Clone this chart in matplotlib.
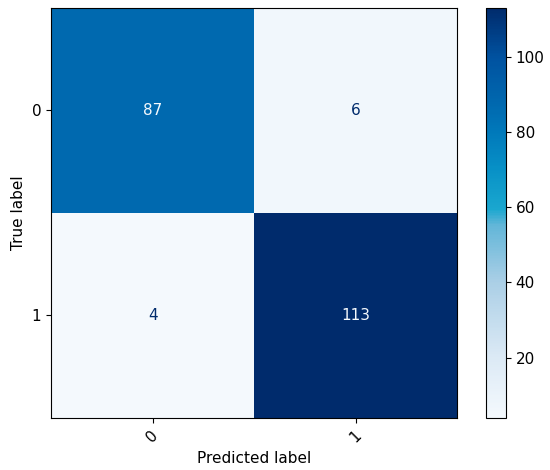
import numpy as np
import matplotlib
matplotlib.use('Agg')
import matplotlib.pyplot as plt
from matplotlib.colors import LinearSegmentedColormap

labels = ['0', '1']
cm = np.array([[87, 6],
               [4, 113]])

# Blues, but punchier like the reference picture
stops = [0.0, 0.15, 0.33, 0.47, 0.51, 0.61, 0.70, 0.76, 0.88, 1.0]
hexes = ['#f4f9fd', '#dbe9f5', '#abcfe6', '#62b6d8', '#1aa7cf',
         '#0790c6', '#0078ba', '#006ab0', '#0052a0', '#002b6c']
cmap = LinearSegmentedColormap.from_list('blues_vivid', list(zip(stops, hexes)))

plt.rcParams['font.size'] = 11

fig = plt.figure(figsize=(5.5, 4.7), dpi=100)
ax = fig.add_axes([0.093, 0.111, 0.738, 0.872])
cax = fig.add_axes([0.884, 0.111, 0.036, 0.872])

im = ax.imshow(cm, interpolation='nearest', cmap=cmap, aspect='auto')
cmap_min, cmap_max = im.cmap(0), im.cmap(1.0)
thresh = (cm.max() + cm.min()) / 2.0

for i in range(cm.shape[0]):
    for j in range(cm.shape[1]):
        color = cmap_max if cm[i, j] < thresh else cmap_min
        ax.text(j, i, format(cm[i, j], 'd'), ha='center', va='center', color=color)

fig.colorbar(im, cax=cax)
ax.set_xticks(np.arange(len(labels)))
ax.set_yticks(np.arange(len(labels)))
ax.set_xticklabels(labels, rotation=45)
ax.set_yticklabels(labels)
ax.set_xlabel('Predicted label')
ax.set_ylabel('True label')
ax.set_ylim(len(labels) - 0.5, -0.5)

plt.savefig('out.png', dpi=100)
